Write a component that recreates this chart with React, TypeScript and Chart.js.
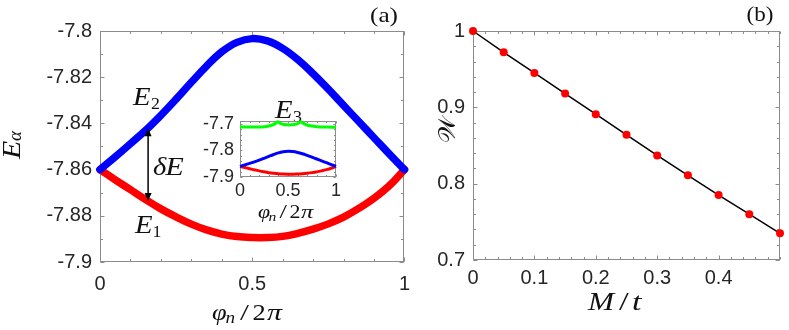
import React, { useEffect, useRef } from "react";
import { Chart, registerables } from "chart.js";
Chart.register(...registerables);

// ---------- data ----------
const PHI = [0, 0.05, 0.1, 0.15, 0.2, 0.25, 0.3, 0.35, 0.4, 0.45, 0.5, 0.55, 0.6, 0.65, 0.7, 0.75, 0.8, 0.85, 0.9, 0.95, 1];
const E2 = [-7.86, -7.8545, -7.8488, -7.843, -7.8365, -7.8295, -7.8222, -7.8152, -7.809, -7.8049, -7.8033, -7.8043, -7.8075, -7.8124, -7.8185, -7.8252, -7.8322, -7.8392, -7.8462, -7.8532, -7.86];
const E1 = [-7.86, -7.8644, -7.8687, -7.873, -7.877, -7.8805, -7.8836, -7.8861, -7.8879, -7.889, -7.8894, -7.8894, -7.8889, -7.8876, -7.8858, -7.8835, -7.8806, -7.8768, -7.8724, -7.867, -7.86];
const PHI3 = [0, 0.1, 0.2, 0.253, 0.3, 0.336, 0.37, 0.395, 0.42, 0.46, 0.513, 0.565, 0.605, 0.632, 0.66, 0.69, 0.73, 0.8, 0.9, 1];
const E3 = [-7.7113, -7.7118, -7.7118, -7.711, -7.708, -7.704, -7.698, -7.6915, -7.698, -7.7025, -7.704, -7.7025, -7.698, -7.6915, -7.698, -7.703, -7.707, -7.7105, -7.712, -7.7125];
const MT = [0, 0.05, 0.1, 0.15, 0.2, 0.25, 0.3, 0.35, 0.4, 0.45, 0.5];
const WVAL = [1, 0.972, 0.945, 0.918, 0.891, 0.864, 0.837, 0.811, 0.785, 0.76, 0.735];

const A_X_TICKS = [0, 0.5, 1];
const A_Y_TICKS = [-7.9, -7.88, -7.86, -7.84, -7.82, -7.8];
const I_X_TICKS = [0, 0.5, 1];
const I_Y_TICKS = [-7.9, -7.8, -7.7];
const B_X_TICKS = [0, 0.1, 0.2, 0.3, 0.4];
const B_Y_TICKS = [0.7, 0.8, 0.9, 1];

// ---------- helpers ----------
const range = (a: number, b: number, s: number) => {
  const out: number[] = [];
  const n = Math.round((b - a) / s);
  for (let i = 0; i <= n; i++) out.push(+(a + i * s).toFixed(6));
  return out;
};

const SANS = '"Liberation Sans", Arial, sans-serif';
const SERIF = '"Liberation Serif"';
const TICK_COLOR = "#262626";
const FRAME = "#8c8c8c";
const it = (s: number) => `italic 400 ${s}px ${SERIF}`;
const up = (s: number) => `400 ${s}px ${SERIF}`;

type Part = { t: string; font: string; x: number; dy?: number; sx?: number };
// draws glyph groups at explicit offsets (x along text direction), optional rotation
function label(ctx: CanvasRenderingContext2D, x0: number, base: number, parts: Part[], rot = 0) {
  ctx.save();
  ctx.fillStyle = "#111";
  ctx.textBaseline = "alphabetic";
  ctx.textAlign = "left";
  ctx.translate(x0, base);
  if (rot) ctx.rotate(rot);
  parts.forEach((p) => {
    ctx.save();
    ctx.font = p.font;
    ctx.translate(p.x, p.dy || 0);
    ctx.scale(p.sx || 1.15, 1);
    ctx.fillText(p.t, 0, 0);
    ctx.restore();
  });
  ctx.restore();
}

function framePlugin(xMaj: number[], xMin: number[], yMaj: number[], yMin: number[], maj: number, min: number) {
  return {
    id: "frame",
    beforeDatasetsDraw(chart: any) {
      const { ctx, chartArea: a, scales } = chart;
      const x = scales.x, y = scales.y;
      ctx.save();
      ctx.strokeStyle = FRAME;
      ctx.lineWidth = 1;
      const L = Math.round(a.left) + 0.5, R = Math.round(a.right) - 0.5;
      const T = Math.round(a.top) + 0.5, B = Math.round(a.bottom) - 0.5;
      ctx.strokeRect(L, T, R - L, B - T);
      ctx.beginPath();
      const tx = (vals: number[], len: number) => vals.forEach((v) => {
        const p = Math.round(x.getPixelForValue(v)) + 0.5;
        ctx.moveTo(p, B); ctx.lineTo(p, B - len);
        ctx.moveTo(p, T); ctx.lineTo(p, T + len);
      });
      const ty = (vals: number[], len: number) => vals.forEach((v) => {
        const p = Math.round(y.getPixelForValue(v)) + 0.5;
        ctx.moveTo(L, p); ctx.lineTo(L + len, p);
        ctx.moveTo(R, p); ctx.lineTo(R - len, p);
      });
      tx(xMin, min); tx(xMaj, maj); ty(yMin, min); ty(yMaj, maj);
      ctx.stroke();
      ctx.restore();
    },
  };
}

function axes(opts: {
  xmin: number; xmax: number; ymin: number; ymax: number;
  xt: number[]; yt: number[]; font: number; xpad: number; ypad: number;
  yWidth: number; xHeight: number;
}) {
  const tickFont = { family: SANS, size: opts.font };
  return {
    x: {
      type: "linear" as const,
      min: opts.xmin, max: opts.xmax,
      afterBuildTicks: (s: any) => { s.ticks = opts.xt.map((v) => ({ value: v })); },
      ticks: { font: tickFont, color: TICK_COLOR, padding: opts.xpad, maxRotation: 0, autoSkip: false, callback: (v: any) => String(v) },
      grid: { display: false, drawTicks: false },
      border: { display: false },
      afterFit: (s: any) => { s.height = opts.xHeight; },
    },
    y: {
      type: "linear" as const,
      min: opts.ymin, max: opts.ymax,
      afterBuildTicks: (s: any) => { s.ticks = opts.yt.map((v) => ({ value: v })); },
      ticks: { font: tickFont, color: TICK_COLOR, padding: opts.ypad, autoSkip: false, callback: (v: any) => String(v) },
      grid: { display: false, drawTicks: false },
      border: { display: false },
      afterFit: (s: any) => { s.width = opts.yWidth; },
    },
  };
}

const base = {
  responsive: false,
  maintainAspectRatio: false,
  animation: false as const,
  devicePixelRatio: 1,
  events: [] as any[],
  plugins: { legend: { display: false }, tooltip: { enabled: false } },
};

const pts = (xs: number[], ys: number[]) => xs.map((x, i) => ({ x, y: ys[i] }));

export default function App() {
  const refA = useRef<HTMLCanvasElement>(null);
  const refB = useRef<HTMLCanvasElement>(null);
  const refI = useRef<HTMLCanvasElement>(null);

  useEffect(() => {
    const charts: Chart[] = [];

    // ----- panel (a) -----
    const annotA = {
      id: "annotA",
      afterDatasetsDraw(chart: any) {
        const { ctx, scales } = chart;
        const x = scales.x, y = scales.y;
        const ax = x.getPixelForValue(0.158);
        const y0 = y.getPixelForValue(-7.8421);
        const y1 = y.getPixelForValue(-7.8736);
        ctx.save();
        ctx.strokeStyle = "#000";
        ctx.fillStyle = "#000";
        ctx.lineWidth = 1.5;
        ctx.beginPath();
        ctx.moveTo(ax, y0 + 6); ctx.lineTo(ax, y1 - 6);
        ctx.stroke();
        ctx.beginPath();
        ctx.moveTo(ax, y0); ctx.lineTo(ax - 3.5, y0 + 8); ctx.lineTo(ax + 3.5, y0 + 8); ctx.closePath();
        ctx.moveTo(ax, y1); ctx.lineTo(ax - 3.5, y1 - 8); ctx.lineTo(ax + 3.5, y1 - 8); ctx.closePath();
        ctx.fill();
        ctx.restore();
      },
      afterDraw(chart: any) {
        const ctx = chart.ctx;
        label(ctx, 133, 105, [{ t: "E", font: it(25), x: 0 }, { t: "2", font: up(17), x: 18, dy: 4, sx: 1.05 }]);
        label(ctx, 135, 233, [{ t: "E", font: it(25), x: 0 }, { t: "1", font: up(17), x: 17.5, dy: 4, sx: 1.05 }]);
        label(ctx, 153, 175, [{ t: "δ", font: it(26), x: 0, sx: 1.1 }, { t: "E", font: it(26), x: 12.5 }]);
        label(ctx, 275, 118, [{ t: "E", font: it(25), x: 0 }, { t: "3", font: up(17), x: 18, dy: 4, sx: 1.05 }]);
        label(ctx, 370, 22, [{ t: "(a)", font: up(21), x: 0, sx: 1.2 }]);
        // y-axis title E_alpha (rotated, reading upwards)
        label(ctx, 20, 159, [{ t: "E", font: it(26), x: 0 }, { t: "α", font: it(18), x: 18, dy: 1, sx: 1.05 }], -Math.PI / 2);
        // x-axis title phi_n / 2 pi
        label(ctx, 212, 320, [
          { t: "φ", font: it(23), x: 0, sx: 1.15 },
          { t: "n", font: it(16), x: 13.5, dy: 3, sx: 1.2 },
          { t: "/", font: up(23), x: 28, sx: 1.4 },
          { t: "2", font: up(23), x: 40.5, sx: 1.15 },
          { t: "π", font: it(23), x: 55, sx: 1.3 },
        ]);
      },
    };
    charts.push(new Chart(refA.current!, {
      type: "scatter",
      data: {
        datasets: [
          { data: pts(PHI, E2), showLine: true, borderColor: "#0000ff", borderWidth: 7.5, pointRadius: 0, tension: 0.4, clip: false, borderCapStyle: "round" } as any,
          { data: pts(PHI, E1), showLine: true, borderColor: "#ff0000", borderWidth: 7.5, pointRadius: 0, tension: 0.4, clip: false, borderCapStyle: "round" } as any,
        ],
      },
      options: {
        ...base,
        layout: { padding: { left: 0, top: 31, right: 14, bottom: 0 } },
        scales: axes({ xmin: 0, xmax: 1, ymin: -7.9, ymax: -7.8, xt: A_X_TICKS, yt: A_Y_TICKS, font: 20, xpad: 10, ypad: 8, yWidth: 100, xHeight: 68 }),
      } as any,
      plugins: [framePlugin(A_X_TICKS, range(0, 1, 0.1), A_Y_TICKS, range(-7.9, -7.8, 0.01), 4, 2.5), annotA],
    }));

    // ----- inset -----
    charts.push(new Chart(refI.current!, {
      type: "scatter",
      data: {
        datasets: [
          { data: pts(PHI3, E3), showLine: true, borderColor: "#00ff00", borderWidth: 3, pointRadius: 0, tension: 0.25, clip: false } as any,
          { data: pts(PHI, E2), showLine: true, borderColor: "#0000ff", borderWidth: 3, pointRadius: 0, tension: 0.4, clip: false } as any,
          { data: pts(PHI, E1), showLine: true, borderColor: "#ff0000", borderWidth: 3, pointRadius: 0, tension: 0.4, clip: false } as any,
        ],
      },
      options: {
        ...base,
        layout: { padding: { left: 0, top: 21, right: 14, bottom: 0 } },
        scales: axes({ xmin: 0, xmax: 1, ymin: -7.9, ymax: -7.689, xt: I_X_TICKS, yt: I_Y_TICKS, font: 18, xpad: 3, ypad: 6, yWidth: 45, xHeight: 48 }),
      } as any,
      plugins: [
        framePlugin(I_X_TICKS, range(0, 1, 0.1), I_Y_TICKS, range(-7.9, -7.7, 0.02), 2, 1.5),
        {
          id: "insetTitle",
          afterDraw(chart: any) {
            label(chart.ctx, 63, 118, [
              { t: "φ", font: it(19), x: 0, sx: 1.15 },
              { t: "n", font: it(13), x: 10.5, dy: 3, sx: 1.2 },
              { t: "/", font: up(19), x: 21.5, sx: 1.4 },
              { t: "2", font: up(19), x: 31.5, sx: 1.15 },
              { t: "π", font: it(19), x: 43, sx: 1.3 },
            ]);
          },
        },
      ],
    }));

    // ----- panel (b) -----
    const annotB = {
      id: "annotB",
      afterDraw(chart: any) {
        const ctx = chart.ctx;
        const o = 410;
        label(ctx, 746.5 - o, 21, [{ t: "(b)", font: up(21), x: 0, sx: 1.1 }]);
        label(ctx, 588 - o, 310, [
          { t: "M", font: it(25), x: 0, sx: 1.25 },
          { t: "/", font: up(25), x: 31, sx: 1.4 },
          { t: "t", font: it(25), x: 44, sx: 1.35 },
        ]);
        label(ctx, 455 - o, 143, [{ t: "𝒲", font: `23px "DejaVu Serif", "DejaVu Sans", serif`, x: 0, sx: 1.1 }], -Math.PI / 2);
      },
    };
    charts.push(new Chart(refB.current!, {
      type: "scatter",
      data: {
        datasets: [
          { data: pts(MT, WVAL), showLine: true, borderColor: "#000", borderWidth: 1.5, pointRadius: 4, pointBackgroundColor: "#ff0000", pointBorderWidth: 0, clip: false } as any,
        ],
      },
      options: {
        ...base,
        layout: { padding: { left: 0, top: 31, right: 9, bottom: 0 } },
        scales: axes({ xmin: 0, xmax: 0.5, ymin: 0.7, ymax: 1, xt: B_X_TICKS, yt: B_Y_TICKS, font: 20, xpad: 6, ypad: 8, yWidth: 63, xHeight: 70 }),
      } as any,
      plugins: [framePlugin(B_X_TICKS, range(0, 0.5, 0.02), B_Y_TICKS, range(0.7, 1, 0.02), 4, 2.5), annotB],
    }));

    return () => charts.forEach((c) => c.destroy());
  }, []);

  return (
    <div style={{ position: "absolute", left: 0, top: 0, width: 789, height: 330, background: "#fff", overflow: "hidden" }}>
      <canvas ref={refA} width={420} height={330} style={{ position: "absolute", left: 0, top: 0, width: 420, height: 330 }} />
      <canvas ref={refB} width={379} height={330} style={{ position: "absolute", left: 410, top: 0, width: 379, height: 330 }} />
      <canvas ref={refI} width={155} height={125} style={{ position: "absolute", left: 195, top: 100, width: 155, height: 125 }} />
    </div>
  );
}
